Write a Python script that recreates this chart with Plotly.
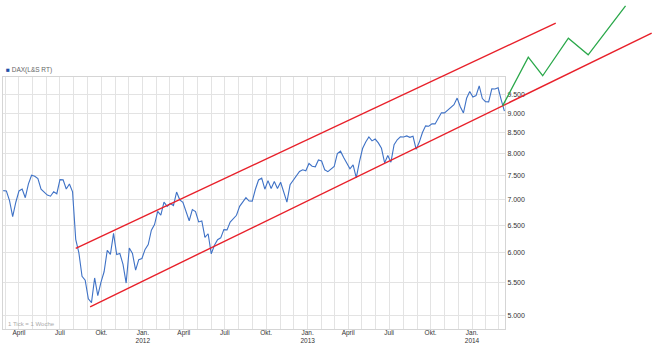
import math
import pandas as pd
import plotly.graph_objects as go

# ---------------- data ----------------
start_week = "2011-02-25"  # weekly closes (Fridays), 1 Tick = 1 Woche
dax_2011 = [7185, 7178, 6982, 6664, 6947, 7179, 7217, 7039, 7330, 7514, 7493, 7443, 7216, 7163,
            7092, 7070, 7164, 7121, 7419, 7414, 7220, 7326, 7159, 6236, 5997, 5602, 5538, 5246,
            5189, 5574, 5295, 5502, 5675, 6040, 5971, 6346, 5966, 5985, 5800, 5492, 6080, 5986,
            5702, 5878, 5898]
dax_2012 = [6057, 6143, 6404, 6511, 6766, 6692, 6948, 6865, 6921, 6880, 7157, 6996, 6947, 6775,
            6583, 6801, 6761, 6561, 6580, 6271, 6339, 5978, 6130, 6229, 6264, 6416, 6410, 6557,
            6630, 6689, 6865, 6944, 7040, 6971, 6970, 7214, 7412, 7451, 7216, 7398, 7232, 7380,
            7232, 7363, 7163, 6950, 7309, 7406, 7517, 7597, 7636, 7612]
dax_2013 = [7776, 7715, 7702, 7857, 7833, 7634, 7593, 7661, 7708, 8004, 8059, 7912, 7795, 7658,
            7744, 7459, 7814, 8122, 8278, 8399, 8305, 8349, 8255, 8127, 7789, 7959, 7806, 8212,
            8331, 8403, 8399, 8425, 8391, 8416, 8104, 8276, 8510, 8675, 8665, 8725, 8725, 8870,
            9010, 9010, 9078, 9168, 9225, 9405, 9172, 9006, 9400, 9589]
dax_2014 = [9435, 9473, 9742, 9392, 9306, 9301, 9662, 9656, 9692, 9350, 9056]

upper_dates = ["2011-08-05", "2014-07-06"]
upper_vals = [6076, 11696]
lower_dates = ["2011-09-06", "2015-02-04"]
lower_vals = [5126, 11361]
green_dates = ["2014-03-10", "2014-05-06", "2014-06-07", "2014-08-03", "2014-09-16", "2014-12-08"]
green_vals = [9195, 10596, 10036, 11195, 10668, 12300]

x_tickvals = ["2011-04-01", "2011-07-01", "2011-10-01", "2012-01-01", "2012-04-01", "2012-07-01",
              "2012-10-01", "2013-01-01", "2013-04-01", "2013-07-01", "2013-10-01", "2014-01-01"]
x_ticktext = ["April", "Juli", "Okt.", "Jan.<br>2012", "April", "Juli", "Okt.", "Jan.<br>2013",
              "April", "Juli", "Okt.", "Jan.<br>2014"]
y_tickvals = [5000, 5500, 6000, 6500, 7000, 7500, 8000, 8500, 9000, 9500]
y_ticktext = ["5.000", "5.500", "6.000", "6.500", "7.000", "7.500", "8.000", "8.500", "9.000", "9.500"]

legend_label = "DAX(L&S RT)"
note_text = "1 Tick = 1 Woche"

# ---------------- layout geometry ----------------
W, H = 663, 346
PX_L, PX_R, PX_T, PX_B = 3, 505, 77, 329
X0 = pd.Timestamp("2011-02-24 12:00")
X1 = pd.Timestamp("2014-03-15 07:00")
Y_LO, Y_HI = 4805, 10000

dax = dax_2011 + dax_2012 + dax_2013 + dax_2014
dates = pd.date_range(start_week, periods=len(dax), freq="W-FRI")

# overlay axes covering the whole figure with the same scale (for extrapolated lines)
sec_per_px = (X1 - X0).total_seconds() / (PX_R - PX_L)
OX0 = X0 - pd.Timedelta(seconds=sec_per_px * PX_L)
OX1 = X1 + pd.Timedelta(seconds=sec_per_px * (W - PX_R))
L0, L1 = math.log10(Y_LO), math.log10(Y_HI)
log_per_px = (L1 - L0) / (PX_B - PX_T)
OL0 = L0 - log_per_px * (H - PX_B)
OL1 = L1 + log_per_px * PX_T

FONT = "Liberation Sans"
GRID = "#e3e3e3"
BLUE = "#3f72c6"
RED = "#e8202a"
GREEN = "#2aa84a"

fig = go.Figure()
fig.add_trace(go.Scatter(x=dates, y=dax, mode="lines", line=dict(color=BLUE, width=1.1),
                         xaxis="x", yaxis="y", showlegend=False, hoverinfo="skip"))
fig.add_trace(go.Scatter(x=pd.to_datetime(upper_dates), y=upper_vals, mode="lines",
                         line=dict(color=RED, width=1.4), xaxis="x2", yaxis="y2", showlegend=False))
fig.add_trace(go.Scatter(x=pd.to_datetime(lower_dates), y=lower_vals, mode="lines",
                         line=dict(color=RED, width=1.4), xaxis="x2", yaxis="y2", showlegend=False))
fig.add_trace(go.Scatter(x=pd.to_datetime(green_dates), y=green_vals, mode="lines",
                         line=dict(color=GREEN, width=1.3), xaxis="x2", yaxis="y2", showlegend=False))

fig.update_layout(
    width=W, height=H, margin=dict(l=0, r=0, t=0, b=0),
    paper_bgcolor="white", plot_bgcolor="rgba(0,0,0,0)",
    template="none", showlegend=False,
    font=dict(family=FONT, size=7, color="#333"),
    xaxis=dict(
        domain=[PX_L / W, PX_R / W], anchor="y", type="date",
        range=[X0, X1], tickmode="array", tickvals=x_tickvals, ticktext=x_ticktext,
        showgrid=True, gridcolor=GRID, gridwidth=1, ticks="", ticklen=0, zeroline=False,
        showline=True, linecolor="#d5d5d5", mirror=True, ticklabelstandoff=-3,
        minor=dict(dtick="M1", tick0="2011-01-01", showgrid=True, gridcolor=GRID, gridwidth=1, ticks=""),
        tickfont=dict(family=FONT, size=6.5, color="#333"), automargin=False,
    ),
    yaxis=dict(
        domain=[(H - PX_B) / H, (H - PX_T) / H], anchor="x", type="log",
        range=[L0, L1], side="right", tickmode="array", tickvals=y_tickvals, ticktext=y_ticktext,
        showgrid=True, gridcolor=GRID, gridwidth=1, ticks="", zeroline=False,
        showline=True, linecolor="#d5d5d5", mirror=True,
        tickfont=dict(family=FONT, size=7, color="#333"), automargin=False,
    ),
    xaxis2=dict(domain=[0, 1], anchor="y2", type="date", range=[OX0, OX1], visible=False,
                showgrid=False, zeroline=False, fixedrange=True),
    yaxis2=dict(domain=[0, 1], anchor="x2", type="log", range=[OL0, OL1], visible=False,
                showgrid=False, zeroline=False, fixedrange=True),
    annotations=[
        dict(xref="paper", yref="paper", x=4 / W, y=(H - 70) / H, xanchor="left", yanchor="middle",
             showarrow=False,
             text=f'<span style="color:#1f4fa8">■</span><span style="color:#666"> {legend_label}</span>',
             font=dict(family=FONT, size=6.5)),
        dict(xref="paper", yref="paper", x=6 / W, y=(H - 324) / H, xanchor="left", yanchor="middle",
             showarrow=False, text=note_text, font=dict(family=FONT, size=6, color="#aaaaaa")),
    ],
)

fig.write_html("out.html")
